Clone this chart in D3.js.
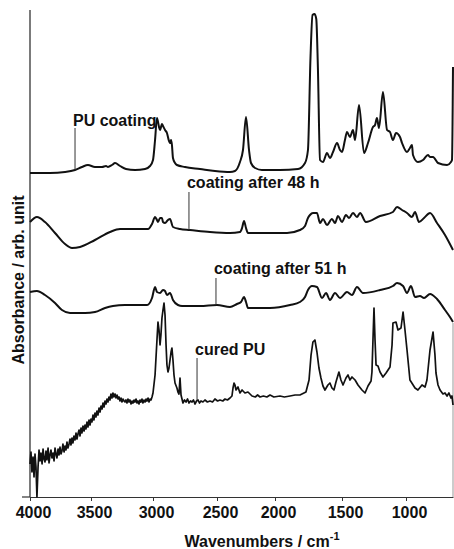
<!DOCTYPE html>
<html><head><meta charset="utf-8">
<script src="https://cdn.jsdelivr.net/npm/d3@7"></script>
<style>
body{margin:0;background:#fff}
svg text{font-family:"Liberation Sans",Arial,Helvetica,sans-serif;font-weight:bold;fill:#111}
</style>
</head><body>
<svg id="chart" width="454" height="549"></svg>
<script>
// ---------- data ----------
const tickValues = [4000, 3500, 3000, 2500, 2000, 1500, 1000];
const tickLabels = ["4000", "3500", "3000", "2500", "2000", "1500", "1000"];
const seriesNames = ["PU coating", "coating after 48 h", "coating after 51 h", "cured PU"];

// [wavenumber (cm-1), absorbance (arb. unit, stacked offset)]
const puCoating = [[4000,3.24],[3836,3.24],[3713,3.25],[3631,3.27],[3574,3.30],[3525,3.32],[3468,3.30],[3411,3.30],[3379,3.31],[3363,3.30],[3331,3.32],[3306,3.34],[3266,3.31],[3218,3.28],[3145,3.27],[3064,3.28],[3024,3.31],[3000,3.37],[2984,3.57],[2969,3.79],[2953,3.70],[2945,3.67],[2930,3.73],[2922,3.71],[2906,3.67],[2891,3.64],[2875,3.56],[2867,3.54],[2859,3.57],[2852,3.52],[2844,3.39],[2828,3.34],[2813,3.32],[2750,3.30],[2633,3.28],[2516,3.26],[2388,3.25],[2345,3.26],[2302,3.35],[2276,3.47],[2250,3.80],[2224,3.47],[2207,3.34],[2172,3.29],[2112,3.27],[1963,3.27],[1828,3.28],[1776,3.34],[1754,3.47],[1735,4.40],[1720,4.82],[1705,4.83],[1692,4.78],[1680,4.30],[1664,3.37],[1642,3.35],[1612,3.44],[1590,3.39],[1567,3.45],[1537,3.54],[1515,3.47],[1500,3.45],[1477,3.57],[1461,3.65],[1438,3.60],[1414,3.67],[1398,3.57],[1367,3.92],[1328,3.44],[1297,3.54],[1258,3.70],[1242,3.72],[1227,3.79],[1211,3.69],[1180,4.05],[1148,3.67],[1125,3.65],[1102,3.57],[1078,3.64],[1047,3.60],[1031,3.54],[992,3.45],[969,3.49],[953,3.52],[945,3.42],[906,3.35],[866,3.37],[827,3.42],[811,3.40],[787,3.40],[748,3.34],[677,3.32],[646,3.35],[638,3.37],[630,4.30]];

const after48h = [[4000,2.75],[3943,2.80],[3877,2.75],[3795,2.64],[3713,2.53],[3656,2.49],[3590,2.50],[3468,2.57],[3347,2.65],[3266,2.68],[3145,2.68],[3040,2.68],[3008,2.73],[2984,2.80],[2969,2.77],[2961,2.75],[2945,2.79],[2930,2.79],[2922,2.75],[2906,2.74],[2883,2.77],[2867,2.78],[2844,2.70],[2789,2.68],[2711,2.67],[2555,2.65],[2388,2.64],[2302,2.65],[2284,2.69],[2267,2.76],[2250,2.69],[2233,2.64],[2190,2.64],[1910,2.64],[1814,2.67],[1776,2.71],[1754,2.79],[1739,2.82],[1717,2.84],[1687,2.84],[1664,2.74],[1642,2.78],[1612,2.72],[1575,2.78],[1552,2.74],[1530,2.81],[1500,2.75],[1469,2.82],[1445,2.79],[1414,2.84],[1383,2.80],[1359,2.84],[1313,2.75],[1203,2.81],[1102,2.85],[1070,2.90],[1031,2.87],[992,2.84],[953,2.80],[929,2.85],[898,2.75],[858,2.79],[811,2.84],[756,2.74],[693,2.62],[630,2.47]];

const after51h = [[4000,2.05],[3943,2.06],[3877,2.02],[3795,1.94],[3738,1.87],[3672,1.84],[3549,1.84],[3468,1.85],[3387,1.89],[3323,1.91],[3226,1.92],[3048,1.92],[3008,1.99],[2984,2.10],[2969,2.05],[2945,2.04],[2922,2.07],[2906,2.06],[2891,2.02],[2867,2.04],[2844,1.97],[2805,1.92],[2773,1.91],[2633,1.91],[2500,1.92],[2388,1.90],[2328,1.93],[2293,1.95],[2267,2.00],[2250,1.95],[2233,1.89],[2043,1.89],[1888,1.92],[1814,1.95],[1776,2.00],[1754,2.07],[1724,2.11],[1687,2.10],[1649,1.99],[1619,2.04],[1590,1.97],[1552,2.04],[1515,1.99],[1461,2.05],[1422,2.02],[1383,2.10],[1336,2.04],[1203,2.07],[1102,2.11],[1070,2.14],[1023,2.11],[992,2.04],[961,2.11],[929,2.00],[890,2.01],[858,1.99],[811,2.03],[756,1.98],[693,1.87],[654,1.80],[630,1.75]];

const curedPU = [[4000,0.33],[3992,0.45],[3984,0.25],[3975,0.40],[3967,0.20],[3959,0.43],[3951,0.30],[3943,0.00],[3934,0.30],[3926,0.47],[3918,0.36],[3910,0.44],[3901,0.33],[3893,0.48],[3885,0.38],[3877,0.35],[3869,0.46],[3861,0.37],[3852,0.49],[3844,0.34],[3836,0.42],[3828,0.47],[3820,0.39],[3811,0.44],[3803,0.36],[3795,0.49],[3787,0.43],[3779,0.39],[3770,0.48],[3762,0.42],[3754,0.50],[3746,0.43],[3738,0.46],[3730,0.53],[3721,0.45],[3713,0.51],[3705,0.47],[3697,0.55],[3689,0.49],[3680,0.53],[3672,0.58],[3664,0.52],[3656,0.59],[3648,0.54],[3640,0.61],[3631,0.57],[3623,0.64],[3615,0.58],[3607,0.63],[3598,0.67],[3590,0.61],[3582,0.69],[3574,0.64],[3566,0.71],[3557,0.66],[3549,0.72],[3541,0.68],[3533,0.75],[3525,0.70],[3516,0.77],[3508,0.72],[3500,0.78],[3492,0.75],[3484,0.82],[3476,0.77],[3468,0.84],[3460,0.80],[3452,0.86],[3444,0.82],[3435,0.89],[3427,0.85],[3419,0.91],[3411,0.88],[3403,0.94],[3395,0.90],[3387,0.96],[3379,0.93],[3371,0.98],[3363,0.95],[3355,1.00],[3347,0.97],[3339,1.03],[3331,0.99],[3323,1.04],[3315,1.00],[3306,1.03],[3298,0.99],[3290,1.02],[3282,0.98],[3274,1.00],[3266,0.96],[3258,0.99],[3250,0.95],[3242,0.98],[3234,0.96],[3226,0.95],[3218,0.97],[3210,0.94],[3202,0.98],[3194,0.95],[3186,0.97],[3177,0.93],[3169,0.96],[3161,0.94],[3153,0.97],[3145,0.95],[3137,0.98],[3129,0.94],[3121,0.96],[3113,0.93],[3105,0.97],[3097,0.95],[3089,0.98],[3081,0.94],[3073,0.97],[3064,0.95],[3056,0.98],[3048,0.96],[3040,0.99],[3032,0.95],[3024,0.98],[3016,0.97],[3008,1.00],[3000,1.04],[2984,1.22],[2969,1.57],[2961,1.75],[2953,1.67],[2945,1.52],[2938,1.62],[2930,1.79],[2922,1.87],[2914,1.94],[2906,1.82],[2898,1.52],[2891,1.32],[2883,1.25],[2875,1.29],[2867,1.37],[2859,1.45],[2852,1.49],[2844,1.37],[2836,1.22],[2828,1.14],[2813,1.09],[2805,1.05],[2797,1.03],[2789,1.19],[2781,1.02],[2766,0.94],[2754,0.97],[2742,0.95],[2730,0.98],[2719,0.94],[2707,0.96],[2695,0.95],[2684,0.97],[2672,0.93],[2660,0.96],[2648,0.97],[2637,0.94],[2625,0.96],[2610,0.95],[2594,0.97],[2575,0.95],[2555,0.96],[2535,0.95],[2516,0.98],[2495,0.96],[2474,0.97],[2450,0.96],[2431,0.98],[2410,0.97],[2388,0.99],[2371,1.01],[2362,1.09],[2353,1.14],[2345,1.12],[2336,1.07],[2319,1.10],[2302,1.04],[2284,1.07],[2259,1.04],[2233,1.05],[2198,1.01],[2170,1.00],[2150,1.02],[2129,1.00],[2100,1.01],[2070,1.00],[2043,1.02],[2010,1.00],[1963,1.01],[1930,1.00],[1888,1.01],[1850,1.02],[1814,1.02],[1769,1.05],[1746,1.17],[1731,1.42],[1717,1.55],[1702,1.57],[1687,1.45],[1672,1.29],[1657,1.19],[1642,1.11],[1627,1.07],[1605,1.12],[1590,1.14],[1575,1.09],[1560,1.07],[1545,1.15],[1523,1.25],[1508,1.17],[1492,1.12],[1469,1.19],[1453,1.22],[1438,1.17],[1422,1.20],[1398,1.17],[1375,1.12],[1344,1.07],[1320,1.04],[1297,1.11],[1273,1.16],[1266,1.25],[1258,1.57],[1250,1.89],[1242,1.57],[1234,1.32],[1219,1.31],[1203,1.25],[1180,1.20],[1156,1.24],[1125,1.30],[1109,1.52],[1102,1.74],[1078,1.75],[1063,1.67],[1039,1.69],[1023,1.85],[1008,1.67],[992,1.47],[969,1.17],[929,1.09],[906,1.07],[874,1.12],[850,1.10],[835,1.17],[811,1.47],[795,1.59],[787,1.65],[772,1.42],[764,1.24],[748,1.12],[732,1.07],[709,1.03],[693,1.04],[677,1.01],[662,1.04],[646,0.99],[638,1.01],[630,0.92]];

// annotation anchors: [wavenumber of leader line, text baseline value, leader top value, leader bottom value]
const annotations = [
  [3631, 3.71, 3.69, 3.27],
  [2719, 3.09, 3.05, 2.67],
  [2508, 2.23, 2.19, 1.92],
  [2656, 1.42, 1.39, 0.97]
];

// ---------- layout ----------
const svg = d3.select("#chart");
const x = d3.scaleLinear()
  .domain([4000, 3500, 3000, 2500, 2000, 1500, 1000, 630])
  .range([30, 91, 153, 217, 275, 342, 406, 453]);
const y = d3.scaleLinear().domain([0, 4.87]).range([497, 10]);

// axes
svg.append("line").attr("x1", x(4000)).attr("x2", x(4000)).attr("y1", y(4.87)).attr("y2", y(0))
  .attr("stroke", "#222").attr("stroke-width", 1.2);
svg.append("line").attr("x1", x(630)).attr("x2", x(630)).attr("y1", y(1.74)).attr("y2", y(0))
  .attr("stroke", "#999").attr("stroke-width", 1);

const xAxis = d3.axisBottom(x).tickValues(tickValues)
  .tickFormat((d, i) => tickLabels[i]).tickSize(4).tickSizeOuter(0).tickPadding(6);
const gx = svg.append("g").attr("transform", `translate(0,${y(0)})`).call(xAxis);
gx.select(".domain").attr("stroke", "#333").attr("stroke-width", 1.2);
gx.selectAll(".tick line").attr("stroke", "#333");
gx.selectAll(".tick text").attr("font-size", 16).attr("dx", 3).style("fill", "#111");
gx.insert("line", ":first-child").attr("x1", 22).attr("x2", x(4000)).attr("stroke", "#333").attr("stroke-width", 1.2);

// spectra
const smooth = d3.line().x(d => x(d[0])).y(d => y(d[1])).curve(d3.curveMonotoneX);
const sharp = d3.line().x(d => x(d[0])).y(d => y(d[1]));
[puCoating, after48h, after51h].forEach(s => {
  svg.append("path").datum(s).attr("d", smooth).attr("fill", "none")
    .attr("stroke", "#111").attr("stroke-width", 2).attr("stroke-linejoin", "round");
});
svg.append("path").datum(curedPU).attr("d", sharp).attr("fill", "none")
  .attr("stroke", "#111").attr("stroke-width", 1.7).attr("stroke-linejoin", "round");

// annotations
annotations.forEach((a, i) => {
  svg.append("line").attr("x1", x(a[0])).attr("x2", x(a[0]))
    .attr("y1", y(a[2])).attr("y2", y(a[3])).attr("stroke", "#333").attr("stroke-width", 1);
  svg.append("text").attr("x", x(a[0]) - 2).attr("y", y(a[1]))
    .attr("font-size", 16).text(seriesNames[i]);
});

// axis titles
const xt = svg.append("text").attr("x", 262).attr("y", 547).attr("text-anchor", "middle").attr("font-size", 16);
xt.append("tspan").text("Wavenumbers / cm");
xt.append("tspan").attr("font-size", 11).attr("dy", -7).text("-1");

svg.append("text").attr("transform", "translate(24,280) rotate(-90)")
  .attr("text-anchor", "middle").attr("font-size", 16).text("Absorbance / arb. unit");
</script>
</body></html>
